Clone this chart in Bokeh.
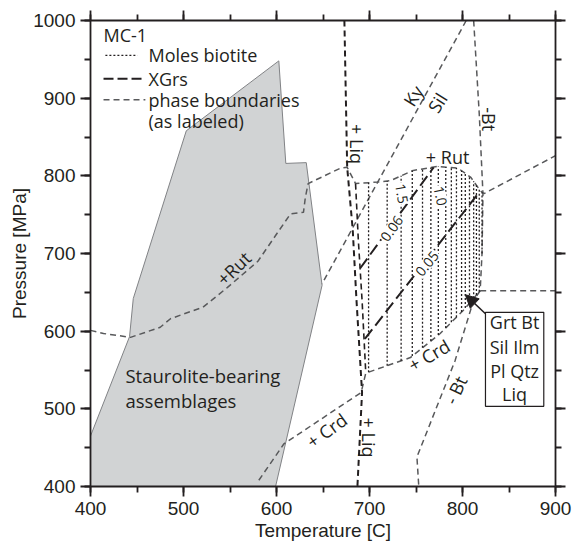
import numpy as np
from bokeh.plotting import figure
from bokeh.models import (Range1d, LinearAxis, SingleIntervalTicker, Arrow, NormalHead,
                          CustomJSTickFormatter)
from bokeh.core.properties import value
from bokeh.embed import file_html
from bokeh.resources import INLINE

# ---------------- data ----------------
# Staurolite-bearing field outline
stauro_T = [400, 400, 442, 446, 503, 602.5, 610, 632, 649, 599]
stauro_P = [400, 465, 593, 642, 858, 948, 816, 817, 659, 400]

# +Rut boundary (continues along dome of the field and to the right edge)
rut_T = [400, 414, 443, 475, 486, 521, 547, 580, 615, 629, 631, 634, 669, 676,
         685, 709, 723, 747, 773, 795, 809, 819, 823, 900]
rut_P = [601, 597, 592, 605, 616, 631, 656, 690, 751, 753, 772, 790, 810, 811,
         790, 792, 794, 807, 812, 810, 798, 781, 777, 826]

# +Liq boundary
liq_T = [673, 676, 682, 686, 692, 687]
liq_P = [1000, 811, 730, 640, 521, 400]

# left edge of the contoured field
field_left_T = [685, 688, 692, 696]
field_left_P = [790, 717, 640, 546]

# Ky / Sil
kysil_T = [804, 649]
kysil_P = [1000, 661]

# -Bt (upper and lower)
btu_T = [812, 818, 822, 821, 819]
btu_P = [1000, 880, 777, 700, 652]
btl_T = [819, 812, 792, 751, 753]
btl_P = [652, 640, 562, 438, 400]

# +Crd
crd_T = [581, 608, 691, 696, 744, 776, 801, 819]
crd_P = [408, 455, 521, 546, 566, 597, 627, 652]

# horizontal boundary to the right
hz_T = [819, 900]
hz_P = [652, 652]

# XGrs isopleths
xgrs_labels = ["0.06", "0.05"]
xgrs06_T = [690, 769]
xgrs06_P = [681, 811]
xgrs05_T = [695, 818]
xgrs05_P = [590, 779]

# Moles biotite isopleths (temperatures of the dotted lines)
bio_T = [699, 719, 734, 746, 757, 766, 774, 782, 788, 793.5, 799, 803, 807.5,
         812, 815, 818, 821]
bio_labels = ["1.5", "1.0"]

# ---------------- figure ----------------
p = figure(width=574, height=548, x_range=Range1d(400, 900), y_range=Range1d(400, 1000),
           output_backend="svg", toolbar_location=None,
           min_border_left=90, min_border_right=19, min_border_top=20, min_border_bottom=62,
           x_axis_label="Temperature [C]", y_axis_label="Pressure [MPa]")
p.grid.visible = False
p.outline_line_color = None
p.background_fill_color = "white"
p.border_fill_color = "white"

INK = "#231f20"

def style_axis(ax):
    ax.ticker = SingleIntervalTicker(interval=100, num_minor_ticks=2)
    ax.axis_line_width = 1.8
    ax.axis_line_color = INK
    ax.major_tick_line_width = 1.8
    ax.minor_tick_line_width = 1.8
    ax.major_tick_line_color = INK
    ax.minor_tick_line_color = INK
    ax.major_tick_out = 10
    ax.major_tick_in = 0
    ax.minor_tick_out = 6
    ax.minor_tick_in = 0
    ax.major_label_text_font = "Liberation Sans"
    ax.major_label_text_font_size = "19px"
    ax.major_label_text_color = INK
    ax.axis_label_text_font = "Liberation Sans"
    ax.axis_label_text_font_size = "19px"
    ax.axis_label_text_font_style = "normal"
    ax.axis_label_text_color = INK

for ax in p.xaxis:
    style_axis(ax)
    ax.axis_label_standoff = 2
for ax in p.yaxis:
    style_axis(ax)
    ax.axis_label_standoff = 0

blank = CustomJSTickFormatter(code="return ''")
top_ax = LinearAxis()
style_axis(top_ax)
top_ax.formatter = blank
p.add_layout(top_ax, "above")
right_ax = LinearAxis()
style_axis(right_ax)
right_ax.formatter = blank
p.add_layout(right_ax, "right")

# Staurolite field
p.patch(stauro_T, stauro_P, fill_color="#d1d3d4", line_color="#808285", line_width=1)

GRAY = "#58595b"
# phase boundaries
for xs, ys in [(rut_T, rut_P), (kysil_T, kysil_P), (btu_T, btu_P), (btl_T, btl_P),
               (crd_T, crd_P), (hz_T, hz_P)]:
    p.line(xs, ys, line_color=GRAY, line_width=1.5, line_dash="6 4")
p.line(liq_T, liq_P, line_color=INK, line_width=2, line_dash="6 4")
p.line(field_left_T, field_left_P, line_color=INK, line_width=1.6, line_dash="6 4")

# Moles biotite isopleths clipped to the field
top_T = rut_T[14:23]
top_P = rut_P[14:23]
bot_T = [692] + crd_T[3:] + [821, 822.5]
bot_P = [540] + crd_P[3:] + [700, 777]
bx, by = [], []
for t in bio_T:
    pb = float(np.interp(t, bot_T, bot_P))
    pt = float(np.interp(t, top_T, top_P))
    bx.append([t, t])
    by.append([pb, pt])
p.multi_line(bx, by, line_color=INK, line_width=1.3, line_dash="2 2")

# XGrs isopleths
p.line(xgrs06_T, xgrs06_P, line_color=INK, line_width=2, line_dash="12 5")
p.line(xgrs05_T, xgrs05_P, line_color=INK, line_width=2, line_dash="12 5")

F = value("Open Sans")
deg = np.pi / 180

def txt(x, y, s, size="18px", angle=0, align="center", bg=None, color=INK):
    kw = {}
    if bg:
        kw = dict(background_fill_color=bg, padding=1)
    p.text(x=[x], y=[y], text=[s], angle=angle * deg, text_font=F,
           text_font_size=size, text_align=align, text_baseline="middle",
           text_color=color, **kw)

# isopleth labels
txt(724, 732, xgrs_labels[0], size="14px", angle=54.5, bg="white")
txt(762, 687, xgrs_labels[1], size="14px", angle=51, bg="white")
txt(734.5, 777, bio_labels[0], size="14px", angle=-80, bg="white")
txt(776, 774, bio_labels[1], size="14px", angle=-78, bg="white")

# phase boundary labels
txt(784, 824, "+ Rut")
txt(554, 681, "+Rut", angle=44)
txt(747, 903, "Ky", angle=58)
txt(773, 894, "Sil", angle=58)
txt(828, 873, "-Bt", angle=-90)
txt(687, 841, "+ Liq", angle=-90)
txt(699, 463, "+ Liq", angle=-90)
txt(654, 472, "+ Crd", angle=36)
txt(764, 569, "+ Crd", angle=30)
txt(792.5, 524, "- Bt", angle=65)

# field label
txt(437.6, 543, "Staurolite-bearing", size="18.5px", align="left")
txt(437.6, 511, "assemblages", size="18.5px", align="left")

# legend
txt(414, 981, "MC-1", align="left")
p.line([416, 450.5], [955, 955], line_color=INK, line_width=1.2, line_dash="2 2")
p.line([414, 459], [925, 925], line_color=INK, line_width=2, line_dash="10 4")
p.line([414, 459], [898, 898], line_color=GRAY, line_width=1.5, line_dash="6 4")
txt(462.4, 955, "Moles biotite", align="left")
txt(462.4, 925, "XGrs", align="left")
txt(462.4, 898, "phase boundaries", align="left")
txt(462.4, 870, "(as labeled)", align="left")

# assemblage box + arrow
p.quad(left=[824.7], right=[887.4], bottom=[503.2], top=[624.2],
       fill_color="white", line_color=INK, line_width=1.2)
for s, yy in zip(["Grt Bt", "Sil Ilm", "Pl Qtz", "Liq"], [612, 580, 549, 519.6]):
    txt(856, yy, s)
p.add_layout(Arrow(end=NormalHead(size=13, fill_color=INK, line_color=INK),
                   x_start=824.7, y_start=622.5, x_end=803, y_end=647,
                   line_color=INK, line_width=1.5))

open("out.html", "w").write(file_html(p, INLINE))
